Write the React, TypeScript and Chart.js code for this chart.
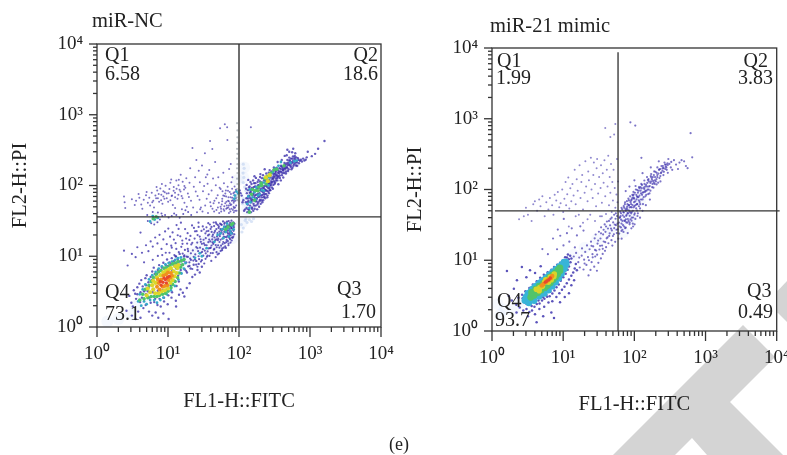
import React, { useEffect, useRef } from "react";
import { Chart, registerables } from "chart.js";

Chart.register(...registerables);

type P = [number, number];

const SERIF = '"Liberation Serif", serif';
const majorTicks = [1, 10, 100, 1000, 10000];
const minorTicks = [2,3,4,5,6,7,8,9,20,30,40,50,60,70,80,90,200,300,400,500,600,700,800,900,2000,3000,4000,5000,6000,7000,8000,9000];
const tickLabels = ["10⁰", "10¹", "10²", "10³", "10⁴"];

const ncTitle = "miR-NC";
const mimicTitle = "miR-21 mimic";
const xTitle = "FL1-H::FITC";
const yTitle = "FL2-H::PI";
const ncQuadrants = ["Q1", "6.58", "Q2", "18.6", "Q3", "1.70", "Q4", "73.1"];
const mimicQuadrants = ["Q1", "1.99", "Q2", "3.83", "Q3", "0.49", "Q4", "93.7"];

const ncGateX = 100;
const ncGateY = 36;
const mimicGateX = 59;
const mimicGateY = 50;

/* ---------- miR-NC ---------- */
const ncHalo: P[] = [[3.5,2],[4.5,2.6],[5.5,3.2],[7,3.8],[9,4.5],[11,5.5],[14,7],[18,9],[22,11],[28,14],[35,17],[45,20],[60,23],[75,27],[6.5,35],[140,55],[180,70],[240,95],[320,130],[440,170],[130,45],[115,130],[118,180],[110,30],[96,70],[96,120],[3,1.5],[2,1.3],[1.4,1.2],[80,18],[50,13],[600,210]];
const ncStreak: P[] = [[94,62],[95,75],[94,90],[95,105],[94,125],[95,150],[94,175],[95,200],[94,240],[95,280],[94,330],[95,400],[95,480],[95,600],[94,760],[93,68],[92,85]];
const ncPale: P[] = [[115,110],[117,130],[114,150],[118,175],[115,200],[120,95],[125,85],[116,65],[112,55],[122,32],[130,30],[115,25],[110,22],[125,34],[140,33],[108,28],[150,31],[160,34]];
const ncBlobBlue: P[] = [
 [2.6,1.7],[3.1,1.45],[3.5,1.3],[3.2,1.95],[3.8,1.65],[4.1,1.35],[4.5,1.85],[4.05,2.25],[3.55,2.5],[3.05,2.2],[2.85,2.75],[3.45,2.95],[4.3,2.6],[4.85,2.05],[5.4,1.65],[6,1.45],[6.7,1.6],[7.3,1.35],[8.6,1.55],[10.2,1.3],[5.7,2.2],[6.4,2.25],[7.1,2.05],[7.9,1.95],[8.8,2.3],[9.9,2.1],[11.2,2.6],[12.9,2.35],[14.3,2.85],[16.2,3.05],[18.4,3.55],[20.2,4.15],[17,2.7],[13,1.95],[15,3.4],[3.3,3.3],[3.7,3.65],[3.95,4.1],[4.4,3.75],[4.2,4.6],[4.8,4.9],[5.3,4.3],[5,5.4],[5.7,5.1],[6,6.1],[6.5,5.6],[6.3,6.9],[7.2,6.4],[7.5,7.5],[8.2,6.9],[8.6,8.1],[9.3,7.5],[9.7,9],[10.5,8.2],[11.3,9.4],[12.1,8.5],[12.8,10],[13.7,9.1],[14.6,10.8],[15.5,8.9],[16.8,9.9],[18,8.2],[19.3,7.2],[17.2,6.5],[15.2,5.8],[18.5,5.9],[20.8,6.7],[13.2,3.8],[14.2,4.4],[11.4,3.1],[10.1,2.8],[8.8,2.6],[7.6,2.5],[6.6,2.5],[5.5,2.6],[4.9,2.9],[4.6,3.2],[4.1,3.1],[3.7,2.9],[22,5.1],[24,5.5],[26,6.4],[28,5.9],[30,7.1],[23,7.6],[25,8.6],[27,7.8],[21,8.9],[19,9.8],[5.2,3.2],[6.1,3.1],[7.2,3.25],[8.5,3.3],[9.6,3.45],[10.9,3.85],[12.4,4.5],[13.9,5.3],[15.1,6.4],[16.3,7.6],[7,5.6],[7.9,6.3],[8.9,6.6],[10,7.3],[11,7.7],[12.1,7.5],[13.4,7.9],[14.4,8.4],[5.9,4.6],[6.6,5],[4.9,3.9],[5.4,3.7],[9.1,5.9],[11.5,6.3],[13.1,6.7]
];
const ncBranch: P[] = [
 [10.5,11.2],[12.3,10.4],[13.1,12.7],[14.2,11.4],[15.4,13.6],[16.1,10.9],[17.3,12.3],[18.6,15.1],[19.2,11.8],[20.5,9.3],[21.3,14.7],[22.4,12.1],[23.7,17.8],[24.2,10.6],[25.8,15.6],[26.1,19.9],[27.4,9.1],[28.3,13.2],[29.6,22.8],[30.2,11.5],[31.7,17.1],[32.4,7.9],[33.1,14.4],[34.8,25.6],[35.3,9.8],[36.6,19.7],[37.2,12.9],[38.9,28.1],[39.4,16.2],[40.7,8.6],[41.2,22.1],[42.8,11.1],[43.3,14.9],[44.6,26.7],[45.1,18.4],[46.9,9.7],[47.2,30.2],[48.5,13.4],[49.8,21.3],[50.3,16.9],[51.6,25.1],[52.2,10.9],[53.7,19.2],[54.1,28.9],[55.9,14.1],[56.4,23.2],[57.8,12.2],[58.3,17.7],[59.6,31.1],[60.1,20.6],[61.7,26.3],[62.9,15.3],[64.2,22.9],[65.5,13.1],[66.8,18.6],[67.1,29.2],[68.4,24.7],[69.7,16.4],[70.2,20.8],[71.6,31.4],[72.3,26.1],[73.9,17.9],[74.5,22.6],[75.8,28.4],[76.2,19.8],[77.7,24.9],[78.3,31.8],[79.6,21.4],[80.1,27.3],[81.5,18.2],[82.8,23.6],[83.2,30.1],[84.7,25.8],[85.9,20.4],[86.4,28.8],
 [14.7,7.6],[16.8,8.6],[18.2,9.9],[20.1,7.3],[22.7,8.7],[24.9,7.6],[26.6,11.8],[29.1,8.4],[31.4,10.2],[33.8,9.2],[36.1,11.7],[38.4,10.1],[40.1,13.2],[42.3,15.7],[44.2,12.4],[46.1,16.8],[48.3,11.4],[50.8,14.3],[53.1,15.9],[55.2,11.9],[58.9,14.9],[61.1,13.2],[63.7,18.7],[66.2,15.8],[68.9,21.7],[71.2,15.1],[73.3,19.9],[75.1,17.4],[78.9,18.4],[25.3,22.6],[28.7,17.4],[30.9,26.4],[33.6,21.1],[36.9,29.3],[39.8,24.3],[42.1,19.1],[44.9,21.6],[47.8,17.3],[50.2,27.7],[52.9,22.3],[54.9,24.1],[57.1,27.8],[59.1,24.4],[62.1,28.7],[64.8,26.2],[67.7,30.8],[70.9,27.1],[73.1,24.3],[76.9,26.6],[80.9,29.4],[83.9,27.2],
 [20.7,19.4],[23.2,25.1],[26.9,29.8],[15.9,16.7],[18.9,21.2],[12.8,15.3],[11.3,13.2],[14.9,19.1],[17.4,24.2],[21.8,27.3],
 [2.4,12],[3.1,10.8],[3.5,9.7],[2.7,7.4],[3.7,13.4],[4.3,11.2],[4.9,14.3],[5.3,11.8],[5.7,16.2],[6.1,13.7],[6.6,18.4],[7.1,15.2],[7.6,20.1],[8.1,12.7],[8.6,17.3],[9.1,22.4],[9.6,14.8],[10.1,24.6],[10.7,18.9],[11.1,14.1],[11.6,21.7],[12.1,17.2],[13.2,27.6],[13.7,19.8],[14.1,24.3],[15.2,29.8],[4.1,21.6],[4.6,8.2],[6.1,8.9],[7.2,10.1],[8.3,10.4],[9.3,11.2]
];
const ncBranchFill: P[] = [[18,6.2],[20,8.2],[22,6.6],[24,9],[26,7.1],[27,10],[29,11.2],[30,8.8],[31,12.6],[32,15.2],[33,12],[34,11],[35,14.3],[36,10.2],[37,15.8],[38,17.2],[39,13],[40,11.1],[41,14.2],[42,17.3],[43,20.2],[44,15.6],[45,12.7],[46,22.8],[47,14.4],[48,24.2],[49,19],[50,10.6],[51,17.8],[52,26.5],[53,13.2],[54,20.6],[55,17.1],[56,28.2],[57,21.7],[58,12.9],[59,23.8],[60,15.9],[61,18.9],[62,22.1],[63,29.9],[64,13.8],[65,25.7],[66,23.4],[67,17],[68,26.8],[69,19.4],[70,23.1],[71,14.3],[72,18.6],[73,27.5],[74,21.2],[75,29.6],[76,15.6],[77,22.4],[78,25.9],[79,16.7],[80,24.6],[81,20.8],[82,27.7],[83,18.9],[84,22.9],[85,29.2],[30,15],[28,19],[25,13.5],[22,15.5],[20,17],[18,17.8],[16,15],[24,22.5],[27,26],[32,24],[35,22.5],[38,20.3],[41,26],[44,30],[48,28.7],[15,8.5],[17,10.3],[19,12.7],[21,11],[23,9.8],[26,13],[29,16],[34,18],[37,22.8],[13,9.9]];
const ncGateCluster: P[] = [[5.2,31.4],[5.8,29.2],[6.4,28.1],[7.1,30.3],[7.7,33.2],[8.3,37.1],[5.1,38.3],[6.1,42.1],[7.2,41.4],[8.1,40.2],[9.1,38.4],[10.2,35.4],[11.3,37.2],[12.2,40.3],[13.1,38.3],[16.4,39.6],[19.2,42.3],[14.6,35.1],[17.6,44.7],[21.2,38.2]];
const ncUpperLeft: P[] = [
 [2.4,70],[2.45,58],[2.5,48],[3.4,53],[3.55,61],[3.85,76],[3.95,67],[4.2,54],[4.55,63],[4.35,47],[4.9,73],[5.2,57],[5.45,67],[5.6,52],[5.9,79],[6.2,61],[6.35,49],[6.65,72],[7.05,85],[7.2,66],[7.5,59],[7.8,91],[8.05,74],[8.35,55],[8.6,83],[8.9,65],[9.25,99],[9.6,77],[10.05,59],[10.45,89],[10.8,109],[11.25,71],[11.7,53],[12.05,95],[12.55,79],[13.1,118],[13.6,65],[14.05,101],[14.55,87],[15.1,142],[15.55,71],[16.1,113],[17.05,57],[17.55,93],[18.1,127],[19.05,77],[20.1,109],[20.55,176],[21.1,61],[22.1,340],[23.1,96],[24.1,131],[25.1,230],[26.1,71],[27.1,161],[28.1,111],[29.1,49],[30.1,191],[31.1,83],[33.1,285],[34.1,131],[35.1,65],[36.1,106],[38.1,166],[39.1,425],[40.1,51],[41.1,85],[42.1,328],[43.1,126],[45.1,61],[46.1,215],[47.1,101],[48.1,45],[50.1,73],[51.1,131],[52.1,57],[54.1,646],[55.1,89],[56.1,43],[58.1,65],[60.1,151],[62.1,51],[63.1,735],[64.1,77],[66.1,47],[68.1,665],[68.6,440],[69.1,96],[70.1,61],[72.1,41],[74.1,81],[76.1,53],[78.1,111],[80.1,67],[82.1,45],[84.1,57],[86.1,73],[88.1,49],[90.1,87],[72.6,171],[80.6,131],[86.6,97],[76.6,201],[84.6,42],[66.6,59],[60.6,46],[52.6,41],[44.6,43],[36.6,41],[30.6,43],[25.6,42],[70.6,49],[78.6,47],[62.6,71],[58.6,83],[147,665],
 [3.1,64],[5,81],[6.9,95],[8.2,105],[11.1,122],[14.2,121],[16.8,88],[19.7,69],[24.6,82],[27.8,63],[32.3,98],[35.8,143],[37.4,75],[43.8,56],[47.9,66],[53.4,93],[57.2,54],[61.4,108],[65.3,85],[71.2,68],[75.7,43],[79.2,61],[83.3,78],[88.6,61],[91.2,52],[92.4,44],[85.1,48],[74.4,56],[67.3,52],[55.9,47],[50.4,49],[42.3,47],[39.4,58],[33.4,52],[28.4,46],[22.6,49],[18.4,50],[15.7,46],[12.6,48],
 [6,58],[6.8,66],[7.4,76],[8,62],[8.6,70],[9,80],[9.6,66],[10.2,78],[10.8,62],[11.4,72],[12,84],[12.6,68],[13.2,90],[14,74],[15,82],[16,66],[17,98],[55,50],[58,60],[60,72],[62,44],[64,56],[66,70],[68,48],[70,84],[72,60],[74,46],[76,68],[78,54],[80,90],[82,62],[84,50],[86,80],[88,44],[90,66],[72,52],[77,76],[85,60]
];
const ncQ2: P[] = [
 [122,46],[125,58],[127,66],[128,48],[129,78],[131,42],[133,54],[134,86],[136,61],[137,72],[139,45],[141,97],[143,52],[144,66],[146,80],[147,42],[149,58],[150,105],[152,49],[154,73],[155,62],[157,90],[159,44],[160,55],[162,81],[164,68],[166,47],[168,97],[170,60],[172,52],[174,74],[176,84],[178,65],[180,46],[183,112],[185,57],[187,70],[190,92],[192,50],[194,78],[197,63],[199,86],[202,55],[205,101],[208,68],[210,73],[213,58],[216,93],[219,62],[222,80],[225,118],[228,70],[231,88],[234,66],[238,99],[241,76],[245,127],[248,84],[252,72],[256,107],[260,91],[264,78],[268,120],[272,99],[276,86],[280,138],[285,108],[290,94],[295,123],[300,148],[305,102],[310,115],[316,132],[322,110],[328,155],[334,126],[340,142],[346,118],[352,165],[360,134],[368,148],[376,128],[385,172],[393,156],[402,140],[412,180],[422,163],[432,150],[442,190],[452,172],[465,205],[478,178],[490,160],[505,195],[520,220],[535,184],[550,205],[566,178],[582,226],[600,200],[618,234],[636,192],[655,213],[676,243],[698,206],[720,224],[745,232],[770,218],[800,240],[835,226],[870,232],
 [135,120],[165,135],[200,145],[230,170],[270,165],[310,180],[350,215],[400,230],[440,262],[470,268],[510,300],[560,295],[620,285],[580,330],[480,320],[1600,425],[1300,330],[1180,280],[1060,260],[930,300],[900,250],
 [133,66],[142,79],[151,92],[163,108],[174,96],[186,101],[198,114],[211,127],[224,92],[237,116],[251,134],[266,106],[283,152],[298,128],[314,144],[331,162],[349,135],[371,176],[391,190],[415,165],[437,208],[459,158],[481,230],[510,248],[540,240],[575,258],[610,262],[148,60],[160,76],[176,60],[190,69],[206,84],[220,75],[235,85],[250,95],[268,92],[285,114],[305,125],[330,138],[355,152],[382,158],[410,170],[445,178],[480,195],[515,205],[555,215],[585,212],
 [102,85],[105,78],[109,72],[115,62],[112,58],[118,44],
 [126,90],[128,102],[132,58],[135,46],[138,94],[140,70],[145,112],[147,84],[150,64],[153,47],[156,76],[158,118],[161,95],[163,52],[167,72],[170,108],[173,128],[176,66],[179,90],[182,54],[184,76],[188,120],[191,100],[194,60],[198,132],[200,72],[204,90],[207,62],[211,110],[214,82],[218,140],[222,68],[226,98],[230,76],[234,128],[238,86],[242,148],[246,100],[250,68],[255,118],[258,82],[262,152],[267,110],[272,86],[278,130],[282,102],[288,158],[294,112],[300,90],[306,135],[312,168],[318,106],[325,148],[332,118],[340,178],[348,128],[358,104],[365,158],[375,138],[388,118],[398,185],[408,150],[420,130],[432,172],[445,195],[458,148],[470,182],[488,210],[500,170],[515,228],[530,192],[548,170],[565,240],[585,190],[605,245],[625,210],[640,250],[660,190],[690,230]
];
const ncCyan: P[] = [[3.8,2.3],[4.2,2],[4.6,2.3],[5,2.1],[5.6,2.4],[6.4,2.4],[7,2.2],[7.8,2.4],[8.6,2.6],[9.6,2.9],[11,3.3],[12.5,3.8],[14,4.7],[15.5,5.7],[16.8,6.7],[17.6,8],[4,2.9],[4.4,3.4],[4.8,4],[5.4,4.7],[6,5.4],[6.7,6],[7.4,6.7],[8.2,7.2],[9.2,7.7],[10.2,8],[11.4,8.4],[12.6,8.9],[13.8,9.4],[15.2,9.6],[5.6,31],[6.5,33],[7.2,35],[6.1,37],[55,21],[60,18],[65,22],[70,25],[75,23],[80,27],[62,26],[50,20],[45,16],[35,13],[30,10],[72,19],[78,21],[84,24],[68,29],[58,24],[24,9.5],[28,11],[135,70],[145,58],[155,68],[165,80],[175,94],[185,72],[200,100],[210,86],[225,110],[245,120],[265,130],[300,155],[330,175],[360,190],[390,215],[530,210],[600,220],[650,225],[92,82],[98,78],[140,48],[130,55],[88,72],[86,65],[142,88],[170,64],[195,75],[225,84],[260,100]];
const ncGreen: P[] = [[4,2.4],[4.4,2.9],[4.6,2.5],[4.8,3.4],[5.2,2.6],[5.4,3.9],[5.8,2.7],[5.8,4.4],[6.4,2.7],[6.2,5],[7,2.7],[6.8,5.5],[7.6,2.8],[7.4,6],[8.4,2.9],[8,6.3],[9.2,3],[8.8,6.8],[10,3.2],[9.6,7],[11,3.6],[10.6,7.4],[11.6,4],[11.6,7.8],[12.6,4.4],[12.6,8],[13.6,5],[13.8,8.4],[14.4,5.8],[15,7],[15.4,8.6],[16,7.6],[16.8,9],[6.2,34],[6.8,36],[70,26],[78,28],[65,24],[82,29],[150,75],[170,85],[190,95],[205,108],[230,125],[250,135],[280,150],[165,62],[210,100],[310,165],[140,42],[340,170],[430,190],[155,88],[185,84],[240,105]];
const ncYellow: P[] = [[5.6,3.1],[6.2,3.4],[6,3.9],[6.6,3],[6.7,4.2],[7,5],[7.4,3],[7.8,5.4],[8.2,3.2],[8.6,5.9],[9,3.3],[9.4,6.2],[10,3.5],[10.2,6.5],[10.8,4.2],[11,6.8],[11.6,4.6],[12,6.1],[12.4,5.2],[12.6,7.2],[13.2,5.8],[13.6,6.8],[5.2,3.5],[6.2,4.5],[5,2.8],[14,7.5],[240,130],[270,140],[255,115]];
const ncOrange: P[] = [[7,3.7],[7.6,3.4],[8.4,3.7],[9,3.8],[7.4,4.2],[8,4.7],[8.6,5.3],[9.4,5.5],[10.2,4.6],[10.8,5],[11,5.8],[10,5.9],[11.4,5.3],[7.2,4.7],[9.8,3.9]];
const ncRed: P[] = [[8.5,4.3],[9.2,4.7],[9.8,5],[8,3.9],[8.8,4.9],[9.5,4.2],[10.4,5.2],[7.8,4.4]];

/* ---------- miR-21 mimic ---------- */
const miHalo: P[] = [[2,2],[2.5,2.5],[3.2,3],[4,3.6],[5,4.5],[6,5.2],[7.5,6.2],[9,7.5],[11,9],[14,12],[20,15],[30,20],[45,27],[65,35],[80,50],[100,70],[130,100],[1.5,2],[1.3,1.7],[1.2,2.4],[70,25],[90,40],[120,70]];
const miBlob: P[] = [
 [1.9,2.7],[2.2,2.35],[2.45,2.15],[2.75,1.95],[3.05,2.05],[3.35,1.85],[3.65,1.95],[3.95,2.2],[4.25,2.4],[4.65,2.45],[5.05,2.7],[5.45,2.85],[5.95,3.05],[6.45,3.1],[7.05,3.4],[7.55,3.75],[8.05,4.15],[8.65,4.55],[9.25,5.15],[10.05,5.75],[10.85,6.45],[11.55,7.35],[12.05,8.15],[12.65,9.35],[13.05,10.6],[12.55,11.6],[11.65,12.05],[10.65,11.05],[9.85,9.85],[9.05,9.25],[8.25,8.65],[7.45,8.05],[6.85,7.35],[6.05,6.75],[5.35,6.25],[4.75,5.65],[4.25,5.05],[3.75,4.55],[3.35,4.05],[2.95,3.65],[2.65,3.25],[2.35,2.95],
 [3.2,1.62],[4.02,1.73],[4.63,2.04],[5.41,2.21],[6.22,2.52],[7.04,2.64],[8.03,3.03],[8.84,3.42],[9.62,3.84],[10.43,4.23],[11.24,4.72],[12.05,5.33],[13.02,6.04],[13.85,6.72],[14.53,7.63],[15.06,8.83],[15.57,7.24],[14.24,5.21],[13.03,4.42],[12.06,3.43],[10.52,3.02],[9.03,2.54],[6.82,1.83],[7.43,1.53],[5.24,1.62],[4.23,1.33],[2.21,1.83],[1.72,3.13],[2.03,3.94],[2.24,5.23],[1.62,7.04],[2.63,8.02],[3.04,5.73],[3.42,7.24],[4.03,6.62],[4.83,8.24],
 [3.05,2.4],[3.6,2.25],[2.8,2.6],[4,2.55],[4.5,2.7],[5.2,3],[5.8,3.25],[6.6,3.6],[7.3,4.05],[8,4.65],[8.9,5.3],[9.6,6.1],[10.4,7],[11.1,8.1],[11.7,9.2],[12,10.3],[11.3,10.9],[10.4,10],[9.6,9.1],[8.8,8.5],[7.9,7.8],[7.2,7.3],[6.4,6.6],[5.6,5.95],[5,5.35],[4.4,4.8],[3.9,4.3],[3.5,3.9],[3.1,3.45],[2.7,2.9]
];
const miChain: P[] = [
 [14.1,11.3],[15.2,12.7],[16.3,9.4],[16.8,10.9],[17.1,7.9],[18.2,11.6],[18.4,14.7],[19.3,7.4],[19.7,10.2],[20.4,13.1],[21.2,8.6],[21.6,16.2],[22.3,11.1],[22.7,6.1],[23.5,14.3],[24.2,7.3],[24.6,18.3],[25.1,9.4],[25.8,12.2],[26.4,15.7],[27.3,8.1],[27.7,20.4],[28.2,11.3],[28.6,23.1],[29.1,13.7],[29.8,7.1],[30.4,17.2],[31.2,9.2],[31.8,25.3],[32.3,14.2],[33.4,20.3],[33.9,10.6],[34.1,29.2],[35.2,16.1],[35.9,12.3],[36.4,23.2],[37.1,18.4],[38.3,32.1],[38.7,13.6],[39.3,25.2],[40.1,15.3],[40.8,20.4],[41.2,35.3],[42.6,28.1],[43.2,17.4],[44.3,22.1],[45.6,31.2],[46.2,38.3],[47.7,19.2],[48.3,26.4],[49.1,16.1],[50.4,34.2],[51.6,23.3],[52.2,28.4],[53.8,18.2],[54.4,38.6],[55.1,31.3],[56.7,24.2],[57.2,42.1],[58.3,27.4],[59.6,20.2],[14.6,15.2],[12.2,18.3],[10.1,16.2],[8.2,14.3],[6.1,12.2],[5.1,14.4],[7.2,20.3],[9.1,22.2],[11.3,24.1],[13.2,28.3],[15.6,22.4],[17.4,30.2],[19.3,26.3],[8.4,27.1],[10.2,38.4],
 [60.7,34.1],[61.3,23.8],[62.6,40.2],[63.2,48.3],[64.8,29.1],[65.1,37.4],[66.3,20.2],[67.4,52.3],[68.7,43.1],[69.2,31.4],[70.3,25.1],[70.9,58.2],[71.2,47.3],[72.4,36.2],[73.6,62.1],[74.2,28.4],[75.3,52.2],[76.8,42.4],[77.1,34.2],[78.6,68.3],[79.3,57.1],[80.2,46.4],[80.7,24.2],[81.1,38.3],[82.4,74.2],[83.6,60.1],[84.2,50.3],[85.7,32.2],[86.1,42.4],[87.3,80.1],[88.6,66.2],[89.1,56.4],[90.2,46.1],[90.8,28.3],[91.4,36.2],[92.1,72.3],[93.7,84.2],[94.2,60.4],[95.6,50.1],[96.3,40.2],[97.1,92.3],[98.4,76.2],[99.2,66.1],[100,58.4],[100.8,32.2],[101.3,46.1],[103.2,38.4],[105.1,100],[106.4,84.2],[107.2,72.3],[108.7,62.1],[109.3,50.4],[110.6,42.2],[112.1,90.3],[114.2,78.1],[116.3,108],[118.6,66.4],[120.2,54.1],[122.4,96.2],[125.1,120],[128.3,84.1],[130.6,72.4],[132.2,62.2],[135.4,106],[138.1,134],[140.7,92.3],[143.2,80.1],[146.3,116],[150.6,150],[153.2,100],[156.4,86.2],[160.1,130],[164.7,112],[168.2,96.1],[172.3,165],[176.6,140],[180.2,120],[185.4,106],[190.1,180],[195.3,150],[200.6,130],[205.2,118],[210.4,205],[218.1,168],[225.3,145],[232.6,130],[240.2,215],[248.4,185],[256.1,160],[265.3,240],[275.6,210],[285.2,190],[295.4,172],[310.1,230],[325.3,205],[340.6,190],[360.2,260],[385.4,225],[410.1,195],[430.3,240],[460.6,260],[500.2,250],[530.4,215],[560.1,200],[300.3,270],[220.6,250],[170.2,205],[130.4,170],[100.1,135],[85.3,110],[75.6,95],[120.2,40],[130.4,50],[145.1,60],[165.3,72],[125.6,280],[617,625],[650,285],[88,890],[103,800],
 [66,33],[72,41],[76,29],[80,52],[83,36],[87,48],[92,56],[95,33],[99,74],[104,60],[111,78],[116,70],[124,88],[134,92],[142,110],[152,124],[160,110],[172,130],[182,150],[194,135],[206,172],[222,190],[236,170],[252,215],[272,195],[292,235],[66,26],[74,36],[78,44],[84,60],[90,70],[96,82],[102,90],[110,98],[118,104],[128,116],[138,102],[148,96],[158,140],[170,155],[188,125],[210,150],[232,195],[258,200],[280,225],[330,245],
 [62,30],[64,42],[66,55],[68,36],[70,48],[72,30],[74,66],[76,38],[78,54],[80,34],[82,46],[84,70],[86,56],[88,38],[90,62],[92,48],[94,76],[96,30],[98,56],[100,44],[103,68],[106,54],[109,80],[112,46],[115,96],[118,82],[121,62],[124,72],[127,104],[131,90],[135,78],[139,120],[143,96],[147,84],[151,110],[155,136],[159,100],[163,88],[168,124],[173,148],[178,108],[183,132],[188,160],[193,120],[198,178],[204,140],[210,160],[216,125],[224,192],[232,155],[240,175],[250,200],[260,178],[270,225],[282,205],[295,222],[62,40],[65,46],[68,27],[72,55],[76,50],[80,62],[86,34],[92,40],[98,85],[104,112],[110,62],[116,58],[122,108],
 [20,9],[23,10],[26,11],[30,12],[33,16],[36,14.5],[39,18],[42,21],[45,24],[47,28],[50,22],[53,32],[56,27],[58,33],[25,16],[28,14],[31,19],[34,24],[37,27],[40,30],[44,36],[48,40],[52,44],[55,46]
];
const miUpperLeft: P[] = [
 [2.4,38],[2.8,42],[3.2,44],[3,55],[3.6,36],[3.8,62],[4,68],[4.3,50],[4.6,72],[4.8,58],[5.1,80],[5.5,42],[5.8,66],[6.2,52],[6.5,76],[7,60],[7.3,44],[7.6,84],[8,70],[8.4,92],[8.8,56],[9.2,64],[9.7,100],[10,48],[10.4,74],[10.8,128],[11,60],[11.4,86],[11.8,148],[12.2,54],[12.6,104],[13,68],[13.5,120],[14,82],[14.5,190],[15,62],[15.5,140],[16,96],[16.6,44],[17,220],[17.5,76],[18,128],[18.5,160],[19,52],[20,90],[20.5,250],[21,110],[22,68],[22.5,180],[23,135],[24,44],[24.5,280],[25,100],[26,76],[26.5,160],[27,240],[28,120],[29,58],[29.5,200],[30,270],[31,88],[32,150],[33,42],[33.5,105],[34,220],[35,65],[36,170],[37,125],[38,260],[39,80],[40,45],[41,190],[42,110],[43,300],[44,60],[45,150],[46,90],[47,230],[48,48],[49,128],[50,70],[51,190],[46,550],[53,105],[54,55],[52,600],[56,85],[57,270],[54,840],[39,740],[35,42],[28,36],[22,38],[19,34],[15,42],[12,30],[58,66],[59,130]
];
const miCyan: P[] = [[2.9,2.7],[3.3,2.8],[3.7,3],[4.2,3.3],[4.7,3.6],[5.2,3.9],[5.8,4.2],[6.3,4.4],[6.9,4.8],[7.5,5.2],[8,5.7],[8.6,6.3],[9.2,7],[9.8,7.8],[10.4,8.6],[10.9,9.4],[3.2,3.4],[3.7,3.9],[4.2,4.3],[4.7,4.8],[5.3,5.2],[5.9,5.7],[6.6,6.1],[7.3,6.6],[8,7.1],[8.8,7.6],[3.3,2.5],[3.9,2.7],[4.6,3.1],[5.4,3.4],[6.2,3.8],[7,4.3],[7.8,4.9],[8.7,5.6],[9.5,6.5],[10.4,7.6],[11,8.8],[3,3],[3.5,3.6],[4,4.2],[4.5,4.6],[5.1,5.1],[5.7,5.6],[6.4,6.2],[7.1,6.8],[7.9,7.4],[8.8,8.1],[9.6,8.7],[10.3,9.4]];
const miGreen: P[] = [[3.5,3],[3.9,3.2],[4.4,3.5],[4.9,3.8],[5.5,4.1],[6,4.4],[6.6,4.8],[7.2,5.3],[7.8,5.8],[8.4,6.4],[9,7.1],[3.6,3.5],[4.1,3.9],[4.6,4.3],[5.2,4.7],[5.8,5.2],[6.4,5.7],[7.1,6.2],[7.8,6.7],[8.5,7.3],[9,7.8]];
const miYellow: P[] = [[4.2,3.9],[4.7,4.1],[5.1,4.3],[5.5,4.9],[6.2,4.9],[6.8,5.3],[7.4,5.9],[5.7,5.3],[6.6,5.8],[7.5,6.4],[4.6,3.7]];
const miOrange: P[] = [[5.3,4.6],[5.8,5],[6.2,5.3],[6.7,5.6],[5,4.4],[7,6]];
const miRed: P[] = [[5.9,5.1],[6.3,5.3],[6.6,5.6],[5.6,4.9]];

const GATE_NC = "#4a4a4a";
const GATE_MI = "#2e2e2e";

type Layer = { pts: P[]; color: string; r: number };
type PanelProps = {
  left: number; width: number; plotLeft: number; plotTop: number; plotRight: number; plotBottom: number;
  title: string; titleX: number; titleY: number; quadrants: string[];
  quadPos: [number, number, "left" | "right"][];
  gateX: number; gateY: number; gateColor: string; gateW: number;
  xFrom: number; xTo: number; yTo: number;
  layers: Layer[]; xTitleBottom: number; yTitleLeft: number;
};

function Panel(p: PanelProps) {
  const ref = useRef<HTMLCanvasElement>(null);
  useEffect(() => {
    const toXY = (a: P[]) => a.map(([x, y]) => ({ x, y }));
    const axisTicks = (scale: any) => {
      scale.ticks = [...majorTicks.map((value) => ({ value, major: true })), ...minorTicks.map((value) => ({ value, major: false }))].sort((a, b) => a.value - b.value);
    };
    const label = (v: any) => {
      const i = majorTicks.indexOf(Number(v));
      return i >= 0 ? tickLabels[i] : "";
    };
    const tickFont = { family: SERIF, size: 19 };
    const titleFont = { family: SERIF, size: 20.5 };
    const deco = {
      id: "deco",
      afterDraw(chart: any) {
        const { ctx, chartArea: a, scales } = chart;
        ctx.save();
        ctx.strokeStyle = "#333";
        ctx.lineWidth = 1.3;
        ctx.strokeRect(a.left, a.top, a.right - a.left, a.bottom - a.top);
        for (const t of scales.x.ticks) {
          const px = scales.x.getPixelForValue(t.value);
          ctx.beginPath(); ctx.moveTo(px, a.bottom); ctx.lineTo(px, a.bottom + (t.major ? 10 : 5)); ctx.stroke();
        }
        for (const t of scales.y.ticks) {
          const py = scales.y.getPixelForValue(t.value);
          ctx.beginPath(); ctx.moveTo(a.left, py); ctx.lineTo(a.left - (t.major ? 8 : 4), py); ctx.stroke();
        }
        ctx.fillStyle = "#222";
        ctx.textBaseline = "alphabetic";
        ctx.textAlign = "left";
        ctx.font = `20.5px ${SERIF}`;
        ctx.fillText(p.title, p.titleX - p.left, p.titleY);
        ctx.font = `20px ${SERIF}`;
        p.quadrants.forEach((s, i) => {
          const [x, y, al] = p.quadPos[i];
          ctx.textAlign = al;
          ctx.fillText(s, x - p.left, y);
        });
        ctx.restore();
      },
    };
    const datasets: any[] = [
      { data: [{ x: p.gateX, y: 1 }, { x: p.gateX, y: p.yTo }], showLine: true, borderColor: p.gateColor, borderWidth: p.gateW, pointRadius: 0, clip: false },
      { data: [{ x: p.xFrom, y: p.gateY }, { x: p.xTo, y: p.gateY }], showLine: true, borderColor: "#333", borderWidth: 1.3, pointRadius: 0, clip: false },
      ...p.layers.map((l) => ({ data: toXY(l.pts), showLine: false, pointRadius: l.r, pointBorderWidth: 0, pointBackgroundColor: l.color })),
    ];
    const chart = new Chart(ref.current!, {
      type: "scatter",
      data: { datasets },
      plugins: [deco],
      options: {
        animation: false, responsive: false, devicePixelRatio: 1,
        layout: { padding: { left: 0, top: p.plotTop, right: p.width - (p.plotRight - p.left), bottom: 0 } },
        plugins: { legend: { display: false }, tooltip: { enabled: false } },
        scales: {
          x: {
            type: "logarithmic", min: 1, max: 10000,
            grid: { display: false, drawTicks: false }, border: { display: false },
            afterBuildTicks: axisTicks,
            afterFit(s: any) { s.height = 455 - p.plotBottom; s.paddingLeft = 0; s.paddingRight = 0; },
            ticks: { callback: label, autoSkip: false, maxRotation: 0, padding: 16, color: "#222", font: tickFont },
            title: { display: true, text: xTitle, color: "#222", font: titleFont, padding: { top: 0, bottom: p.xTitleBottom } },
          },
          y: {
            type: "logarithmic", min: 1, max: 10000,
            grid: { display: false, drawTicks: false }, border: { display: false },
            afterBuildTicks: axisTicks,
            afterFit(s: any) { s.width = p.plotLeft - p.left; s.paddingTop = 0; s.paddingBottom = 0; },
            ticks: { callback: label, autoSkip: false, padding: 14, color: "#222", font: tickFont },
            title: { display: true, text: yTitle, color: "#222", font: titleFont, padding: { top: p.yTitleLeft, bottom: 0 } },
          },
        },
      } as any,
    });
    return () => chart.destroy();
  }, []);
  return <canvas ref={ref} width={p.width} height={455} style={{ position: "absolute", left: p.left, top: 0, width: p.width, height: 455 }} />;
}

export default function App() {
  const blue = "rgba(58,46,170,0.78)";
  const ncLayers: Layer[] = [
    { pts: ncRed, color: "#e8482a", r: 1.7 },
    { pts: ncOrange, color: "#f0901e", r: 2 },
    { pts: ncYellow, color: "#dcd62a", r: 2.1 },
    { pts: ncGreen, color: "#4fc46a", r: 1.8 },
    { pts: ncCyan, color: "#35a8c8", r: 1.4 },
    { pts: ncBlobBlue, color: blue, r: 1.2 },
    { pts: ncBranch, color: blue, r: 1.1 },
    { pts: ncBranchFill, color: blue, r: 1.1 },
    { pts: ncQ2, color: blue, r: 1.2 },
    { pts: ncGateCluster, color: blue, r: 1 },
    { pts: ncUpperLeft, color: "rgba(70,58,175,0.72)", r: 1 },
    { pts: ncStreak, color: "rgba(130,140,150,0.55)", r: 1.1 },
    { pts: ncPale, color: "rgba(170,195,235,0.45)", r: 1.6 },
    { pts: ncHalo, color: "rgba(190,210,245,0.16)", r: 6 },
  ];
  const miLayers: Layer[] = [
    { pts: miRed, color: "#e8482a", r: 1.7 },
    { pts: miOrange, color: "#f0901e", r: 2.3 },
    { pts: miYellow, color: "#d8d42a", r: 2.8 },
    { pts: miGreen, color: "#52c46a", r: 3.4 },
    { pts: miCyan, color: "#38b4d8", r: 3.4 },
    { pts: miBlob, color: "rgba(50,40,170,0.8)", r: 1.25 },
    { pts: miChain, color: "rgba(60,48,172,0.68)", r: 1.1 },
    { pts: miUpperLeft, color: "rgba(70,58,175,0.6)", r: 1 },
    { pts: miHalo, color: "rgba(190,210,245,0.14)", r: 6 },
  ];
  return (
    <div style={{ position: "absolute", left: 0, top: 0, width: 787, height: 455, background: "#fff", overflow: "hidden" }}>
      <svg width={787} height={455} style={{ position: "absolute", left: 0, top: 0 }}>
        <polygon fill="#d4d4d4" points="743,325 775,357 730,402 783,455 707,455 692,438 675,455 613,455" />
        <polygon fill="#d4d4d4" points="777.5,291 787,281 787,322 777.5,312.5" />
      </svg>
      <Panel left={0} width={400} plotLeft={97} plotTop={44} plotRight={381} plotBottom={327}
        title={ncTitle} titleX={92} titleY={27} quadrants={ncQuadrants}
        quadPos={[[105,61,"left"],[105,80,"left"],[378,61,"right"],[378,80,"right"],[337,295,"left"],[376,318,"right"],[105,298,"left"],[105,320,"left"]]}
        gateX={ncGateX} gateY={ncGateY} gateColor={GATE_NC} gateW={1.6} xFrom={1} xTo={10000} yTo={10000}
        layers={ncLayers} xTitleBottom={41} yTitleLeft={8} />
      <Panel left={400} width={387} plotLeft={492} plotTop={48} plotRight={776.7} plotBottom={331}
        title={mimicTitle} titleX={490} titleY={32} quadrants={mimicQuadrants}
        quadPos={[[497,67,"left"],[496,84,"left"],[768,67,"right"],[773,84,"right"],[747,297,"left"],[773,318,"right"],[497,307,"left"],[495,326,"left"]]}
        gateX={mimicGateX} gateY={mimicGateY} gateColor={GATE_MI} gateW={1.3} xFrom={1.1} xTo={11000} yTo={8700}
        layers={miLayers} xTitleBottom={38} yTitleLeft={3} />
      <div style={{ position: "absolute", left: 389, top: 434, fontFamily: SERIF, fontSize: 18, lineHeight: "20px", color: "#222" }}>(e)</div>
    </div>
  );
}
